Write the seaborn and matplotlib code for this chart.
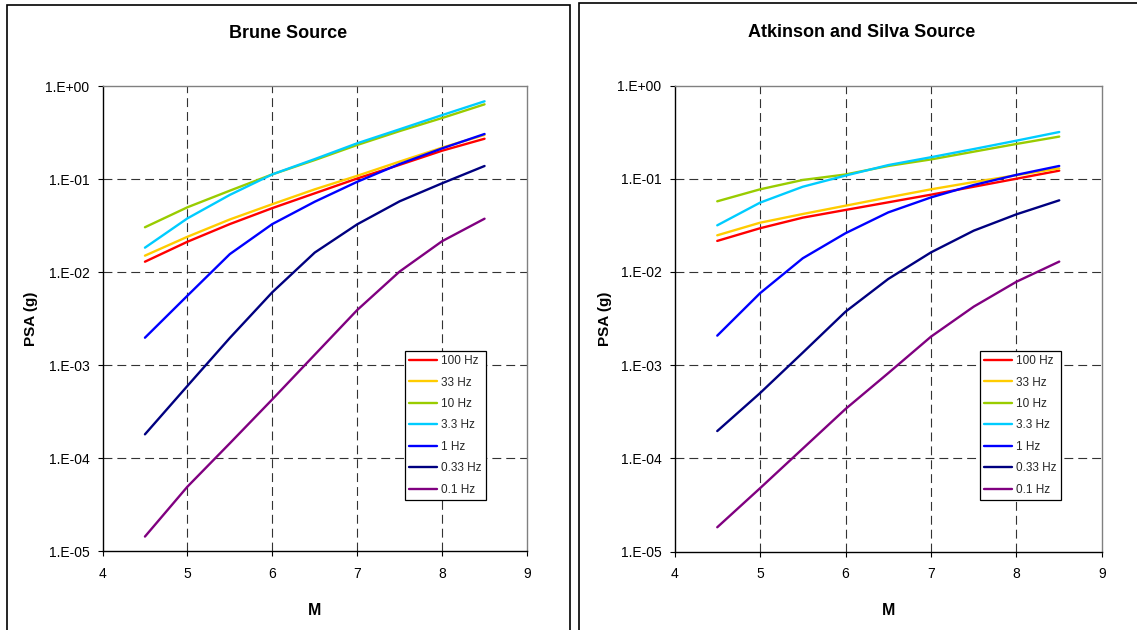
import matplotlib
matplotlib.use("Agg")
import matplotlib.pyplot as plt
from matplotlib.patches import Rectangle
from matplotlib.ticker import FixedLocator, FixedFormatter, NullLocator
import numpy as np
import pandas as pd
import seaborn as sns

# Magnitudes at which spectral accelerations were computed
magnitudes = [4.5, 5.0, 5.5, 6.0, 6.5, 7.0, 7.5, 8.0, 8.5]

frequencies = ["100 Hz", "33 Hz", "10 Hz", "3.3 Hz", "1 Hz", "0.33 Hz", "0.1 Hz"]
colors = ["#FF0000", "#FFCC00", "#99CC00", "#00CCFF", "#0000FF", "#000080", "#800080"]

# PSA (g) for the Brune source model
brune_100 = [0.013, 0.0213, 0.033, 0.049, 0.0707, 0.102, 0.143, 0.203, 0.273]
brune_33 = [0.0151, 0.0241, 0.037, 0.054, 0.078, 0.109, 0.155, 0.219, 0.300]
brune_10 = [0.0305, 0.050, 0.0755, 0.113, 0.161, 0.234, 0.330, 0.456, 0.640]
brune_3p3 = [0.0184, 0.038, 0.068, 0.113, 0.165, 0.244, 0.345, 0.490, 0.690]
brune_1 = [0.00198, 0.0056, 0.0157, 0.033, 0.0574, 0.094, 0.146, 0.215, 0.307]
brune_0p33 = [1.81e-4, 6.0e-4, 1.97e-3, 6.1e-3, 0.0163, 0.0328, 0.058, 0.0906, 0.139]
brune_0p1 = [1.44e-5, 4.95e-5, 1.45e-4, 4.3e-4, 1.3e-3, 3.93e-3, 0.0102, 0.0216, 0.0377]

# PSA (g) for the Atkinson and Silva source model
as_100 = [0.0215, 0.0294, 0.0382, 0.0462, 0.0558, 0.0674, 0.082, 0.100, 0.122]
as_33 = [0.0247, 0.0337, 0.0418, 0.0513, 0.063, 0.0769, 0.092, 0.109, 0.129]
as_10 = [0.0572, 0.0769, 0.0969, 0.111, 0.137, 0.161, 0.195, 0.236, 0.283]
as_3p3 = [0.0316, 0.0553, 0.082, 0.108, 0.140, 0.170, 0.208, 0.256, 0.317]
as_1 = [0.00207, 0.0059, 0.014, 0.026, 0.0435, 0.063, 0.0856, 0.110, 0.137]
as_0p33 = [1.96e-4, 5.0e-4, 1.36e-3, 3.74e-3, 8.4e-3, 0.0162, 0.0277, 0.0415, 0.0586]
as_0p1 = [1.82e-5, 4.77e-5, 1.27e-4, 3.38e-4, 8.2e-4, 2.02e-3, 4.24e-3, 7.85e-3, 0.0129]

x_ticks = [4, 5, 6, 7, 8, 9]
y_ticks = [1e-5, 1e-4, 1e-3, 1e-2, 1e-1, 1e0]
y_tick_labels = ["1.E-05", "1.E-04", "1.E-03", "1.E-02", "1.E-01", "1.E+00"]

titles = ["Brune Source", "Atkinson and Silva Source"]


def long_table(series):
    rows = []
    for freq, vals in zip(frequencies, series):
        for m, v in zip(magnitudes, vals):
            rows.append({"M": m, "PSA": v, "freq": freq})
    return pd.DataFrame(rows)


brune_df = long_table([brune_100, brune_33, brune_10, brune_3p3, brune_1, brune_0p33, brune_0p1])
as_df = long_table([as_100, as_33, as_10, as_3p3, as_1, as_0p33, as_0p1])

sns.set_theme(style="white")
plt.rcParams["font.family"] = ["Liberation Sans", "DejaVu Sans"]
plt.rcParams["axes.unicode_minus"] = False

W, H = 1137, 630
fig = plt.figure(figsize=(W / 100, H / 100), dpi=100)
fig.patch.set_facecolor("white")

# Chart boxes (pixel geometry converted to figure fractions)
fig.add_artist(Rectangle((6.7 / W, -0.02), (570 - 6.7) / W, 1.02 - 5.3 / H,
                         transform=fig.transFigure, fill=False, edgecolor="black", lw=1.2))
fig.add_artist(Rectangle((579.3 / W, -0.02), 0.5, 1.02 - 3.3 / H,
                         transform=fig.transFigure, fill=False, edgecolor="black", lw=1.2))

axes_px = [(102.5, 86.3, 527.0, 551.3), (674.5, 85.5, 1102.0, 551.5)]
legend_px = [(405, 351), (980, 351)]
title_px = [(288, 33.5), (862, 32.5)]
ylabel_px = [31, 605]

palette = dict(zip(frequencies, colors))

for i, df in enumerate([brune_df, as_df]):
    x0, y0, x1, y1 = axes_px[i]
    ax = fig.add_axes([x0 / W, 1 - y1 / H, (x1 - x0) / W, (y1 - y0) / H])
    sns.lineplot(data=df, x="M", y="PSA", hue="freq", hue_order=frequencies,
                 palette=palette, lw=1.7, ax=ax, legend=False)
    ax.set_yscale("log")
    ax.set_xlim(4, 9)
    ax.set_ylim(1e-5, 1e0)
    ax.xaxis.set_major_locator(FixedLocator(x_ticks))
    ax.yaxis.set_major_locator(FixedLocator(y_ticks))
    ax.yaxis.set_major_formatter(FixedFormatter(y_tick_labels))
    ax.yaxis.set_minor_locator(NullLocator())
    ax.xaxis.set_minor_locator(NullLocator())
    ax.tick_params(axis="both", which="major", direction="out", length=3.3, width=0.8,
                   color="black", labelsize=10, labelcolor="black", left=True, bottom=True)
    ax.tick_params(axis="y", pad=6)
    ax.tick_params(axis="x", pad=8)

    ax.grid(True, which="major", color="#333333", lw=0.8, ls=(0, (8, 4.5)))
    for tick in [ax.xaxis.get_major_ticks()[0], ax.xaxis.get_major_ticks()[-1],
                 ax.yaxis.get_major_ticks()[0], ax.yaxis.get_major_ticks()[-1]]:
        tick.gridline.set_visible(False)

    for side in ["left", "bottom"]:
        ax.spines[side].set_color("black")
        ax.spines[side].set_linewidth(1.0)
    for side in ["top", "right"]:
        ax.spines[side].set_color("#808080")
        ax.spines[side].set_linewidth(1.0)
    for sp in ax.spines.values():
        sp.set_visible(True)

    ax.set_xlabel("M", fontsize=11.5, fontweight="bold", color="black")
    ax.xaxis.set_label_coords(0.5, (y1 - 603) / (y1 - y0))
    ax.set_ylabel("PSA (g)", fontsize=11, fontweight="bold", color="black", va="center")
    ax.yaxis.set_label_coords((ylabel_px[i] - x0) / (x1 - x0), 0.5)

    lx, ly = legend_px[i]
    leg = ax.legend(ax.get_lines()[:len(frequencies)], frequencies, loc="upper left",
                    bbox_to_anchor=(lx / W, 1 - ly / H), bbox_transform=fig.transFigure,
                    frameon=True, fancybox=False, framealpha=1, edgecolor="black",
                    fontsize=8.5, handlelength=2.4, handletextpad=0.3,
                    labelspacing=0.8, borderpad=0.35, borderaxespad=0)
    leg.get_frame().set_linewidth(0.9)

    tx, ty = title_px[i]
    fig.text(tx / W, 1 - ty / H, titles[i], ha="center", va="center",
             fontsize=13, fontweight="bold", color="black")

fig.savefig("out.png", dpi=100, facecolor="white")
